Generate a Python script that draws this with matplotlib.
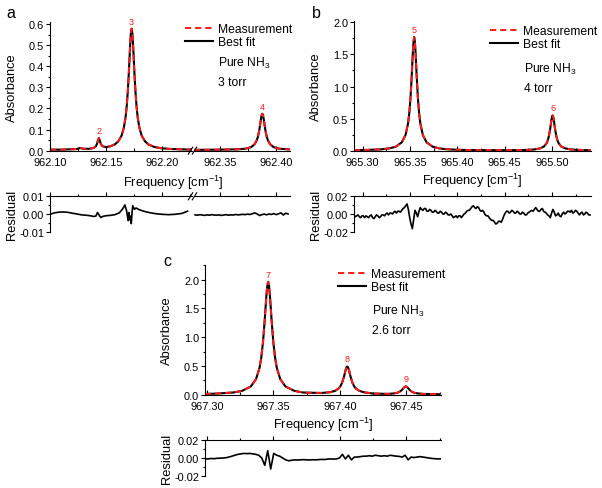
import matplotlib
matplotlib.use('Agg')
import matplotlib.pyplot as plt
from matplotlib.ticker import MultipleLocator, FormatStrFormatter
from matplotlib.lines import Line2D
import numpy as np

plt.rcParams['font.family'] = ['Liberation Sans', 'DejaVu Sans']
plt.rcParams['axes.unicode_minus'] = False
plt.rcParams['mathtext.fontset'] = 'custom'
plt.rcParams['mathtext.rm'] = 'Liberation Sans'
plt.rcParams['mathtext.it'] = 'Liberation Sans:italic'
plt.rcParams['mathtext.bf'] = 'Liberation Sans:bold'

# ---------------- data ----------------
# Panel a (broken frequency axis)
a_freq_left = [962.100, 962.110, 962.120, 962.124, 962.127, 962.130, 962.135, 962.139, 962.141, 962.142,
               962.143, 962.1437, 962.1445, 962.1455, 962.147, 962.150, 962.154, 962.158, 962.161, 962.164,
               962.166, 962.1675, 962.1685, 962.1695, 962.1704, 962.1717, 962.1723, 962.173, 962.1737, 962.1743,
               962.1756, 962.1765, 962.1775, 962.1785, 962.180, 962.182, 962.185, 962.188, 962.193, 962.199,
               962.208, 962.227]
a_abs_left = [0.005, 0.005, 0.007, 0.008, 0.013, 0.009, 0.009, 0.013, 0.021, 0.032,
              0.051, 0.060, 0.049, 0.031, 0.021, 0.017, 0.021, 0.030, 0.044, 0.071,
              0.108, 0.155, 0.204, 0.274, 0.358, 0.501, 0.553, 0.578, 0.553, 0.501,
              0.358, 0.274, 0.204, 0.155, 0.108, 0.071, 0.044, 0.030, 0.018, 0.012,
              0.008, 0.005]
a_freq_right = [962.327, 962.350, 962.366, 962.373, 962.378, 962.381, 962.383, 962.384, 962.385, 962.386,
                962.3868, 962.3874, 962.388, 962.3886, 962.3892, 962.390, 962.391, 962.392, 962.393, 962.395,
                962.398, 962.403, 962.4127]
a_abs_right = [0.004, 0.005, 0.0065, 0.0095, 0.017, 0.030, 0.049, 0.065, 0.089, 0.122,
               0.151, 0.168, 0.175, 0.168, 0.151, 0.122, 0.089, 0.065, 0.049, 0.030,
               0.017, 0.0095, 0.006]
a_res_left_freq = [962.100, 962.104, 962.108, 962.112, 962.116, 962.120, 962.124, 962.128, 962.132, 962.136,
                   962.139, 962.141, 962.1425, 962.1440, 962.1455, 962.147, 962.150, 962.154, 962.158, 962.162,
                   962.165, 962.167, 962.1685, 962.1695, 962.1700, 962.1705, 962.1712, 962.1720, 962.1727, 962.1733,
                   962.174, 962.1755, 962.177, 962.180, 962.185, 962.190, 962.195, 962.200, 962.206, 962.212,
                   962.218, 962.223]
a_res_left = [0.0000, 0.0008, 0.0012, 0.0013, 0.0011, 0.0006, 0.0002, -0.0003, -0.0005, -0.0008,
              -0.0012, -0.0010, 0.0010, -0.0005, -0.0018, -0.0012, -0.0008, -0.0006, -0.0002, 0.0008,
              0.0030, 0.0052, 0.0020, -0.0020, -0.0035, 0.0010, -0.0030, -0.0010, -0.0052, 0.0005,
              0.0048, 0.0028, 0.0035, 0.0025, 0.0015, 0.0008, 0.0003, 0.0000, -0.0002, 0.0000,
              0.0005, 0.0017]
a_res_right_span = (962.328, 962.411)
a_res_right = [-0.0003, -0.0005, -0.0002, -0.0004, -0.0006, -0.0003, -0.0005, -0.0002, -0.0004, -0.0005,
               -0.0003, -0.0006, -0.0004, -0.0002, -0.0005, -0.0003, -0.0004, -0.0001, -0.0003, -0.0002,
               0.0000, -0.0002, 0.0001, -0.0001, 0.0003, 0.0008, 0.0002, -0.0007, -0.0002, 0.0001,
               -0.0003, 0.0002, -0.0001, 0.0004, -0.0002, 0.0003, 0.0008, -0.0004, 0.0006, 0.0002]
a_peak_labels = ['2', '3', '4']
a_peak_freq = [962.1437, 962.173, 962.388]
a_peak_abs = [0.060, 0.578, 0.175]
a_xlim_left = (962.100, 962.227)
a_xlim_right = (962.327, 962.4127)
a_ylim = (0.0, 0.611)
a_res_ylim = (-0.01, 0.01)

# Panel b
b_freq = [965.291, 965.305, 965.3195, 965.322, 965.3285, 965.335, 965.3415, 965.3454, 965.348, 965.3493,
          965.3506, 965.3519, 965.35255, 965.3532, 965.35385, 965.3545, 965.35515, 965.3558, 965.35645, 965.3571,
          965.3584, 965.3597, 965.361, 965.3636, 965.3675, 965.374, 965.3805, 965.387, 965.400, 965.415,
          965.435, 965.455, 965.4705, 965.4745, 965.481, 965.4875, 965.4914, 965.494, 965.4953, 965.4966,
          965.4979, 965.49855, 965.4992, 965.49985, 965.5005, 965.50115, 965.5018, 965.50245, 965.5031, 965.5044,
          965.5057, 965.507, 965.5096, 965.5135, 965.520, 965.5265, 965.541]
b_abs = [0.009, 0.012, 0.021, 0.025, 0.037, 0.062, 0.131, 0.246, 0.423, 0.582,
         0.822, 1.168, 1.371, 1.564, 1.709, 1.770, 1.709, 1.564, 1.371, 1.168,
         0.822, 0.582, 0.423, 0.246, 0.131, 0.062, 0.037, 0.025, 0.014, 0.010,
         0.008, 0.008, 0.011, 0.013, 0.019, 0.037, 0.066, 0.113, 0.157, 0.228,
         0.336, 0.404, 0.474, 0.528, 0.549, 0.528, 0.474, 0.404, 0.336, 0.228,
         0.157, 0.113, 0.066, 0.037, 0.019, 0.013, 0.007]
b_res_span = (965.291, 965.540)
b_res = [-0.001, -0.003, -0.002, -0.001, -0.003, -0.004, -0.002, -0.002, -0.004, -0.002,
         -0.003, -0.004, -0.002, -0.001, -0.004, -0.005, -0.003, -0.001, -0.002, -0.004,
         -0.003, -0.001, -0.001, -0.002, 0.000, 0.001, -0.001, 0.001, 0.001, 0.000,
         0.002, 0.003, 0.001, 0.003, 0.003, 0.002, 0.004, 0.006, 0.007, 0.009,
         0.011, 0.005, -0.004, -0.011, -0.016, -0.006, 0.004, 0.001, -0.003, 0.003,
         0.007, 0.005, 0.004, 0.006, 0.006, 0.003, 0.003, 0.005, 0.004, 0.002,
         0.002, 0.004, 0.003, 0.001, 0.001, 0.003, 0.002, 0.000, 0.000, 0.002,
         0.001, -0.001, -0.001, 0.000, -0.002, -0.004, -0.003, -0.002, -0.004, -0.002,
         -0.002, -0.004, -0.002, 0.000, 0.001, 0.003, 0.004, 0.004, 0.006, 0.008,
         0.009, 0.007, 0.006, 0.008, 0.007, 0.004, 0.003, 0.004, 0.002, -0.001,
         -0.002, -0.002, -0.004, -0.006, -0.007, -0.007, -0.009, -0.011, -0.010, -0.008,
         -0.008, -0.009, -0.006, -0.002, 0.001, 0.003, 0.003, 0.001, 0.002, 0.004,
         0.003, 0.001, 0.001, 0.003, 0.002, 0.000, 0.000, 0.002, 0.001, -0.001,
         -0.001, 0.001, 0.002, 0.003, 0.004, 0.003, 0.005, 0.007, 0.005, 0.003,
         0.003, 0.005, 0.006, 0.003, 0.002, 0.001, -0.001, -0.002, -0.004, 0.001,
         0.005, 0.002, -0.002, -0.001, 0.001, -0.002, -0.003, 0.000, 0.002, 0.000,
         0.001, 0.003, 0.003, 0.002, 0.004, 0.001, 0.002, 0.004, 0.003, 0.001,
         -0.001, 0.001, 0.002, -0.001, 0.000, 0.002, 0.001, -0.001, -0.001]
b_peak_labels = ['5', '6']
b_peak_freq = [965.3545, 965.5005]
b_peak_abs = [1.770, 0.549]
b_xlim = (965.291, 965.541)
b_ylim = (0.0, 2.025)
b_res_ylim = (-0.02, 0.02)

# Panel c
c_freq = [967.2985, 967.307, 967.320, 967.3265, 967.333, 967.3369, 967.3395, 967.3408, 967.3421, 967.3434,
          967.34405, 967.3447, 967.34535, 967.346, 967.34665, 967.3473, 967.34795, 967.3486, 967.3499, 967.3512,
          967.3525, 967.3551, 967.359, 967.3655, 967.372, 967.376, 967.386, 967.3925, 967.3964, 967.399,
          967.4003, 967.4016, 967.4029, 967.40355, 967.4042, 967.40485, 967.4055, 967.40615, 967.4068, 967.40745,
          967.4081, 967.4094, 967.4107, 967.412, 967.4146, 967.4185, 967.425, 967.432, 967.4365, 967.4404,
          967.443, 967.4443, 967.4456, 967.4469, 967.4482, 967.4495, 967.4508, 967.4521, 967.4534, 967.4547,
          967.456, 967.4586, 967.4625, 967.476]
c_abs = [0.013, 0.019, 0.039, 0.068, 0.144, 0.271, 0.467, 0.644, 0.910, 1.293,
         1.517, 1.732, 1.892, 1.965, 1.892, 1.732, 1.517, 1.293, 0.910, 0.644,
         0.467, 0.271, 0.144, 0.068, 0.039, 0.035, 0.030, 0.043, 0.067, 0.108,
         0.146, 0.207, 0.303, 0.363, 0.425, 0.473, 0.490, 0.473, 0.425, 0.363,
         0.303, 0.207, 0.145, 0.107, 0.066, 0.040, 0.020, 0.016, 0.014, 0.022,
         0.033, 0.045, 0.062, 0.090, 0.126, 0.146, 0.126, 0.090, 0.062, 0.045,
         0.033, 0.022, 0.014, 0.007]
c_res_span = (967.2985, 967.476)
c_res = [-0.001, -0.001, -0.0005, -0.0008, -0.0003, -0.0002, 0.000, 0.0003, 0.001, 0.002,
         0.003, 0.004, 0.0045, 0.005, 0.0048, 0.005, 0.0045, 0.004, 0.003, 0.000,
         -0.008, 0.008, -0.012, 0.005, 0.003, 0.002, 0.000, -0.002, -0.003, -0.0025,
         -0.002, -0.0022, -0.002, -0.0018, -0.002, -0.0022, -0.0019, -0.002, -0.0018, -0.0015,
         -0.0017, -0.0012, -0.001, -0.0012, -0.001, 0.000, 0.004, -0.001, 0.003, -0.002,
         0.001, 0.001, 0.0015, 0.002, 0.002, 0.0025, 0.002, 0.003, 0.0025, 0.002,
         0.0025, 0.002, 0.003, 0.0025, 0.002, 0.0018, 0.001, 0.003, -0.002, 0.001,
         0.0005, 0.001, 0.0015, 0.001, 0.0005, 0.000, -0.0005, -0.0008, -0.001, -0.001]
c_peak_labels = ['7', '8', '9']
c_peak_freq = [967.346, 967.4055, 967.4495]
c_peak_abs = [1.965, 0.490, 0.146]
c_xlim = (967.2985, 967.476)
c_ylim = (0.0, 2.256)
c_res_ylim = (-0.02, 0.02)

legend_labels = ['Measurement', 'Best fit']
panel_letters = ['a', 'b', 'c']
sample_text = ['Pure NH$_3$', 'Pure NH$_3$', 'Pure NH$_3$']
pressure_text = ['3 torr', '4 torr', '2.6 torr']

# ---------------- style ----------------
W, H = 602, 489
TICK = 7.9
LABEL = 9.3
LEG = 8.7
PEAK = 6.5
RED = '#ff1a1a'

fig = plt.figure(figsize=(W / 100, H / 100), dpi=100)


def box(l, t, r, b):
    return [l / W, 1 - b / H, (r - l) / W, (b - t) / H]


def style_main(ax, xmaj, ymaj, yfmt, show_y=True):
    ax.spines['top'].set_visible(False)
    ax.spines['right'].set_visible(False)
    for s in ax.spines.values():
        s.set_linewidth(0.8)
    ax.xaxis.set_major_locator(MultipleLocator(xmaj))
    ax.xaxis.set_minor_locator(MultipleLocator(xmaj / 2))
    ax.xaxis.set_major_formatter(FormatStrFormatter('%.2f'))
    ax.tick_params(axis='x', which='major', direction='in', length=3.5, width=0.8,
                   labelsize=TICK, pad=4.6)
    ax.tick_params(axis='x', which='minor', direction='in', length=2, width=0.8)
    if show_y:
        ax.yaxis.set_major_locator(MultipleLocator(ymaj))
        ax.yaxis.set_minor_locator(MultipleLocator(ymaj / 2))
        ax.yaxis.set_major_formatter(FormatStrFormatter(yfmt))
        ax.tick_params(axis='y', which='major', direction='out', length=3, width=0.8,
                       labelsize=TICK, pad=1.2)
        ax.tick_params(axis='y', which='minor', direction='out', length=1.8, width=0.8)
    else:
        ax.spines['left'].set_visible(False)
        ax.tick_params(axis='y', which='both', left=False, labelleft=False)


def style_res(ax, xmaj, ymaj, show_y=True):
    ax.spines['bottom'].set_visible(False)
    ax.spines['right'].set_visible(False)
    for s in ax.spines.values():
        s.set_linewidth(0.8)
    ax.xaxis.tick_top()
    ax.xaxis.set_major_locator(MultipleLocator(xmaj))
    ax.xaxis.set_minor_locator(MultipleLocator(xmaj / 2))
    ax.tick_params(axis='x', which='major', direction='out', length=3, width=0.8, labeltop=False)
    ax.tick_params(axis='x', which='minor', direction='out', length=1.8, width=0.8)
    if show_y:
        ax.yaxis.set_major_locator(MultipleLocator(ymaj))
        ax.yaxis.set_minor_locator(MultipleLocator(ymaj / 2))
        ax.yaxis.set_major_formatter(FormatStrFormatter('%.2f'))
        ax.tick_params(axis='y', which='major', direction='out', length=3, width=0.8,
                       labelsize=TICK, pad=1.2)
        ax.tick_params(axis='y', which='minor', direction='out', length=1.8, width=0.8)
    else:
        ax.spines['left'].set_visible(False)
        ax.tick_params(axis='y', which='both', left=False, labelleft=False)


def draw_spectrum(ax, f, y):
    ax.plot(f, y, color='black', lw=1.5, solid_capstyle='butt')
    ax.plot(f, y, color=RED, lw=1.4, dashes=(3.2, 2.0))


def label_peaks(ax, labels, freqs, heights):
    for lab, fx, hy in zip(labels, freqs, heights):
        ax.annotate(lab, xy=(fx, hy), xytext=(0, 2.2), textcoords='offset points',
                    ha='center', va='bottom', color=RED, fontsize=PEAK)


def set_ylabel_px(ax, text, px_left, width_px):
    ax.set_ylabel(text, fontsize=LABEL)
    ax.yaxis.set_label_coords(-px_left / width_px, 0.5)


def add_legend_block(x_line, y_first, y_sample, y_press, idx):
    handles = [Line2D([], [], color=RED, lw=1.4, dashes=(3.2, 2.0)),
               Line2D([], [], color='black', lw=1.5)]
    fig.legend(handles, legend_labels, loc='upper left',
               bbox_to_anchor=(x_line / W, 1 - (y_first - 6.8) / H),
               frameon=False, fontsize=LEG, handlelength=2.35, handletextpad=0.35,
               labelspacing=0.08, borderpad=0, borderaxespad=0)
    x_text = x_line + 33.5
    fig.text(x_text / W, 1 - (y_sample + 4.3) / H, sample_text[idx], fontsize=LEG,
             va='baseline', ha='left')
    fig.text(x_text / W, 1 - (y_press + 4.3) / H, pressure_text[idx], fontsize=LEG,
             va='baseline', ha='left')


def break_marks(x_px, y_px):
    for dx in (-2.0, 2.0):
        fig.add_artist(Line2D([(x_px + dx - 2.2) / W, (x_px + dx + 2.2) / W],
                              [1 - (y_px + 3.5) / H, 1 - (y_px - 3.5) / H],
                              transform=fig.transFigure, color='black', lw=0.8))


# ---------------- panel a ----------------
aL = fig.add_axes(box(50, 22.7, 192, 151.7))
aR = fig.add_axes(box(194, 22.7, 290, 151.7))
draw_spectrum(aL, a_freq_left, a_abs_left)
draw_spectrum(aR, a_freq_right, a_abs_right)
for ax, xl in ((aL, a_xlim_left), (aR, a_xlim_right)):
    ax.set_xlim(*xl)
    ax.set_ylim(*a_ylim)
style_main(aL, 0.05, 0.1, '%.1f')
style_main(aR, 0.05, 0.1, '%.1f', show_y=False)
label_peaks(aL, a_peak_labels[:2], a_peak_freq[:2], a_peak_abs[:2])
label_peaks(aR, a_peak_labels[2:], a_peak_freq[2:], a_peak_abs[2:])
set_ylabel_px(aL, 'Absorbance', 32, 142)
fig.text(173 / W, 1 - 183 / H, 'Frequency [cm$^{-1}$]', fontsize=LABEL, ha='center', va='center')
break_marks(192.5, 151.7)

arL = fig.add_axes(box(50, 197.3, 192, 233.3))
arR = fig.add_axes(box(194, 197.3, 290, 233.3))
arL.plot(a_res_left_freq, a_res_left, color='black', lw=1.2)
arR.plot(np.linspace(*a_res_right_span, len(a_res_right)), a_res_right, color='black', lw=1.2)
for ax, xl in ((arL, a_xlim_left), (arR, a_xlim_right)):
    ax.set_xlim(*xl)
    ax.set_ylim(*a_res_ylim)
style_res(arL, 0.05, 0.01)
style_res(arR, 0.05, 0.01, show_y=False)
set_ylabel_px(arL, 'Residual', 32, 142)
break_marks(192.5, 197.3)

add_legend_block(185, 30.7, 63, 82, 0)

# ---------------- panel b ----------------
b_ax = fig.add_axes(box(354, 21.7, 591, 151.7))
draw_spectrum(b_ax, b_freq, b_abs)
b_ax.set_xlim(*b_xlim)
b_ax.set_ylim(*b_ylim)
style_main(b_ax, 0.05, 0.5, '%.1f')
label_peaks(b_ax, b_peak_labels, b_peak_freq, b_peak_abs)
set_ylabel_px(b_ax, 'Absorbance', 32, 237)
b_ax.set_xlabel('Frequency [cm$^{-1}$]', fontsize=LABEL, labelpad=2.5)

br = fig.add_axes(box(354, 196.7, 591, 233.3))
br.plot(np.linspace(*b_res_span, len(b_res)), b_res, color='black', lw=1.2)
br.set_xlim(*b_xlim)
br.set_ylim(*b_res_ylim)
style_res(br, 0.05, 0.02)
set_ylabel_px(br, 'Residual', 32, 237)

add_legend_block(490, 32.7, 68.3, 87.3, 1)

# ---------------- panel c ----------------
c_ax = fig.add_axes(box(205, 266, 441, 395.7))
draw_spectrum(c_ax, c_freq, c_abs)
c_ax.set_xlim(*c_xlim)
c_ax.set_ylim(*c_ylim)
style_main(c_ax, 0.05, 0.5, '%.1f')
label_peaks(c_ax, c_peak_labels, c_peak_freq, c_peak_abs)
set_ylabel_px(c_ax, 'Absorbance', 32, 236)
c_ax.set_xlabel('Frequency [cm$^{-1}$]', fontsize=LABEL, labelpad=2.5)

cr = fig.add_axes(box(205, 440.7, 441, 477.3))
cr.plot(np.linspace(*c_res_span, len(c_res)), c_res, color='black', lw=1.2)
cr.set_xlim(*c_xlim)
cr.set_ylim(*c_res_ylim)
style_res(cr, 0.05, 0.02)
set_ylabel_px(cr, 'Residual', 32, 236)

add_legend_block(338, 276, 311, 330, 2)

# panel letters
for letter, (px, py) in zip(panel_letters, [(10.5, 14), (316, 13), (167, 261)]):
    fig.text(px / W, 1 - py / H, letter, fontsize=11.5, ha='center', va='center')

fig.savefig('out.png', dpi=100)
